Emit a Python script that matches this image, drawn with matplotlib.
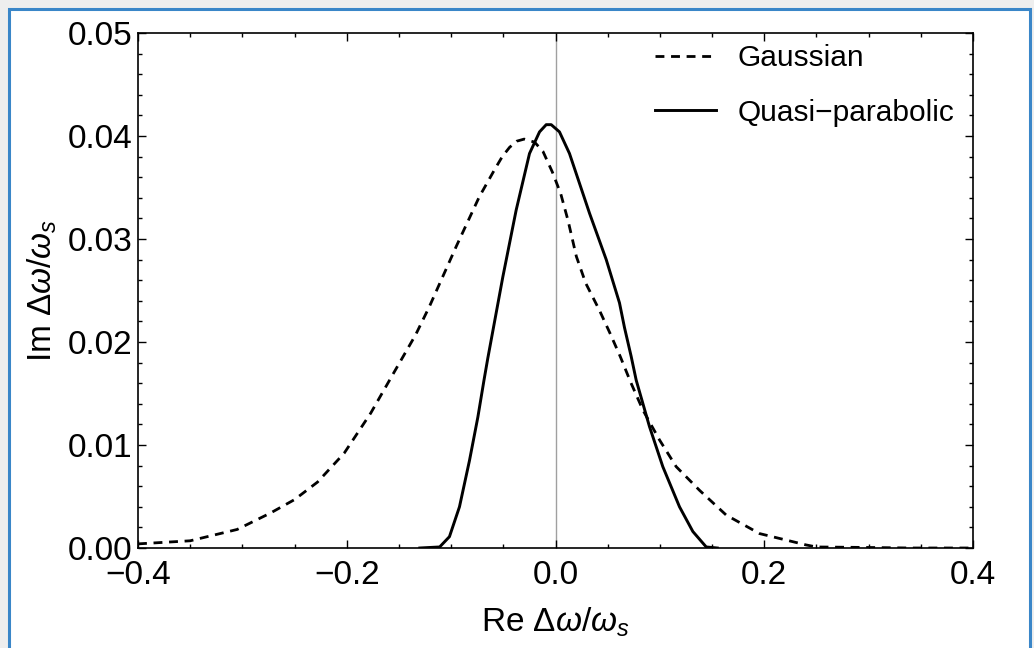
import numpy as np
import matplotlib
matplotlib.use("Agg")
import matplotlib.pyplot as plt
from matplotlib.patches import Rectangle
from matplotlib.ticker import MultipleLocator, FuncFormatter

plt.rcParams['font.family'] = ['Liberation Sans', 'DejaVu Sans']
plt.rcParams['mathtext.fontset'] = 'custom'
plt.rcParams['mathtext.rm'] = 'Liberation Sans'
plt.rcParams['mathtext.it'] = 'Liberation Sans:italic'

# Curvas
x_gauss = [-0.40, -0.35, -0.305, -0.273, -0.25, -0.228, -0.2025, -0.177, -0.155,
           -0.134, -0.121, -0.095, -0.073, -0.058, -0.051, -0.044, -0.037, -0.030, -0.020,
           -0.012, -0.003, 0.005, 0.012, 0.020, 0.029, 0.042, 0.052, 0.062, 0.072,
           0.0837, 0.0996, 0.1156, 0.138, 0.1635, 0.1955, 0.24, 0.25, 0.30, 0.34, 0.40]
y_gauss = [0.0004, 0.0007, 0.0018, 0.0034, 0.0047, 0.0064, 0.0092, 0.0131, 0.0170,
           0.0207, 0.0234, 0.0293, 0.0341, 0.0368, 0.0380, 0.0389, 0.0395, 0.0397, 0.0394,
           0.0385, 0.0365, 0.0344, 0.0318, 0.0283, 0.0257, 0.0231, 0.0209, 0.0186, 0.0161,
           0.0134, 0.0105, 0.0079, 0.0056, 0.0032, 0.0014, 0.0003, 0.0001, 0.00005, 0.0, 0.0]

x_quasi = [-0.13, -0.111, -0.1016, -0.092, -0.0824, -0.0744, -0.0685, -0.0649,
           -0.0505, -0.0377, -0.0249, -0.0153, -0.0089, -0.0041, 0.0038, 0.0134,
           0.023, 0.0326, 0.0486, 0.0613, 0.0661, 0.0725, 0.0773, 0.090, 0.1028,
           0.1188, 0.1316, 0.1444, 0.155]
y_quasi = [0.0, 0.0001, 0.0011, 0.0040, 0.0085, 0.0127, 0.0163, 0.0184,
           0.0263, 0.0328, 0.0383, 0.0404, 0.0411, 0.0411, 0.0404, 0.0383,
           0.0354, 0.0325, 0.0280, 0.0238, 0.0214, 0.0186, 0.0163, 0.0118, 0.0079,
           0.0040, 0.0016, 0.0001, 0.0]

W, H = 1034, 648
fig = plt.figure(figsize=(W / 100, H / 100), dpi=100, facecolor='#eeeeee')

# marco azul alrededor del gráfico
fig.patches.append(Rectangle((8.5 / W, -0.05), (1030 - 8.5) / W, 1.05 - 8.5 / H,
                             transform=fig.transFigure, facecolor='white',
                             edgecolor='#3a86c8', linewidth=2.2, zorder=-1))

ax = fig.add_axes([138 / W, 1 - 548 / H, (973 - 138) / W, (548 - 33) / H])
ax.set_facecolor('white')

ax.axvline(0, color='#a0a0a0', lw=1.0, zorder=1)
ax.plot(x_gauss, y_gauss, color='black', lw=2.0, dashes=(3.2, 2.4), label='Gaussian', zorder=3)
ax.plot(x_quasi, y_quasi, color='black', lw=2.1, label='Quasi\u2212parabolic', zorder=3)

ax.set_xlim(-0.4, 0.4)
ax.set_ylim(0, 0.05)
ax.xaxis.set_major_locator(MultipleLocator(0.2))
ax.xaxis.set_minor_locator(MultipleLocator(0.05))
ax.yaxis.set_major_locator(MultipleLocator(0.01))
ax.yaxis.set_minor_locator(MultipleLocator(0.002))
ax.xaxis.set_major_formatter(FuncFormatter(lambda v, p: f'{v:.1f}'.replace('-', '\u2212')
                                           if abs(v) > 1e-9 else '0.0'))
ax.yaxis.set_major_formatter(FuncFormatter(lambda v, p: f'{abs(v):.2f}'))

for s in ax.spines.values():
    s.set_linewidth(1.2)
ax.tick_params(which='both', direction='in', top=True, right=True, width=1.0)
ax.tick_params(which='major', length=6, labelsize=24)
ax.tick_params(which='minor', length=3)
ax.tick_params(axis='x', pad=9)
ax.tick_params(axis='y', pad=4)

ax.set_xlabel(r'Re $\Delta\omega/\omega_s$', fontsize=24, labelpad=10)
ax.set_ylabel(r'Im $\Delta\omega/\omega_s$', fontsize=24, labelpad=6)

ax.legend(loc='upper left', bbox_to_anchor=(655 / W, 1 - 44 / H),
          bbox_transform=fig.transFigure, frameon=False, fontsize=21.5,
          handlelength=2.05, handletextpad=0.72, labelspacing=0.9,
          borderpad=0, borderaxespad=0)

fig.savefig('out.png', dpi=100, facecolor=fig.get_facecolor())
